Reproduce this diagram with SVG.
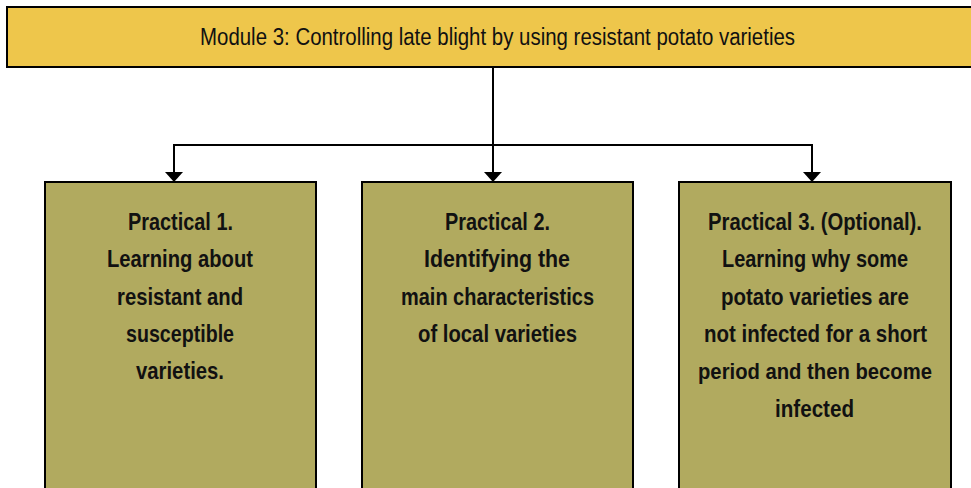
<svg xmlns="http://www.w3.org/2000/svg" width="971" height="488" viewBox="0 0 971 488">
<style>
.bar{fill:#EEC64B;stroke:#000;stroke-width:2}
.box{fill:#B1AA5F;stroke:#000;stroke-width:2}
.title{font-family:"Liberation Sans",Arial,sans-serif;font-size:23px;fill:#111}
.lbl{font-family:"Liberation Sans",Arial,sans-serif;font-size:24px;font-weight:bold;fill:#111}
.conn{fill:none;stroke:#000;stroke-width:2}
.head{fill:#000}
</style>
<g id="module">
<rect class="bar" x="7" y="7" width="975" height="60"/>
<text class="title" x="200" y="45" textLength="595" lengthAdjust="spacingAndGlyphs">Module 3: Controlling late blight by using resistant potato varieties</text>
</g>
<g id="practical1">
<rect class="box" x="45" y="182" width="271" height="320"/>
<text class="lbl" x="128" y="230" textLength="105" lengthAdjust="spacingAndGlyphs">Practical 1.</text>
<text class="lbl" x="107" y="267" textLength="146" lengthAdjust="spacingAndGlyphs">Learning about</text>
<text class="lbl" x="117" y="305" textLength="126" lengthAdjust="spacingAndGlyphs">resistant and</text>
<text class="lbl" x="126" y="342" textLength="108" lengthAdjust="spacingAndGlyphs">susceptible</text>
<text class="lbl" x="136" y="379" textLength="88" lengthAdjust="spacingAndGlyphs">varieties.</text>
</g>
<g id="practical2">
<rect class="box" x="362" y="182" width="271" height="320"/>
<text class="lbl" x="445" y="230" textLength="105" lengthAdjust="spacingAndGlyphs">Practical 2.</text>
<text class="lbl" x="424" y="267" textLength="146" lengthAdjust="spacingAndGlyphs">Identifying the</text>
<text class="lbl" x="401" y="305" textLength="193" lengthAdjust="spacingAndGlyphs">main characteristics</text>
<text class="lbl" x="418" y="342" textLength="159" lengthAdjust="spacingAndGlyphs">of local varieties</text>
</g>
<g id="practical3">
<rect class="box" x="679" y="182" width="272" height="320"/>
<text class="lbl" x="708" y="230" textLength="214" lengthAdjust="spacingAndGlyphs">Practical 3. (Optional).</text>
<text class="lbl" x="722" y="267" textLength="186" lengthAdjust="spacingAndGlyphs">Learning why some</text>
<text class="lbl" x="721" y="305" textLength="188" lengthAdjust="spacingAndGlyphs">potato varieties are</text>
<text class="lbl" x="704" y="342" textLength="223" lengthAdjust="spacingAndGlyphs">not infected for a short</text>
<text class="lbl" x="698" y="379" textLength="234" lengthAdjust="spacingAndGlyphs" style="font-size:22px">period and then become</text>
<text class="lbl" x="775" y="417" textLength="79" lengthAdjust="spacingAndGlyphs">infected</text>
</g>
<g id="connectors">
<path class="conn" d="M493,68 V173"/>
<path class="conn" d="M174,145 H812"/>
<path class="conn" d="M174,144 V173"/>
<path class="conn" d="M812,144 V173"/>
<path class="head" d="M484,172 H502 L493,182 Z"/>
<path class="head" d="M165,172 H183 L174,182 Z"/>
<path class="head" d="M803,172 H821 L812,182 Z"/>
</g>
</svg>
